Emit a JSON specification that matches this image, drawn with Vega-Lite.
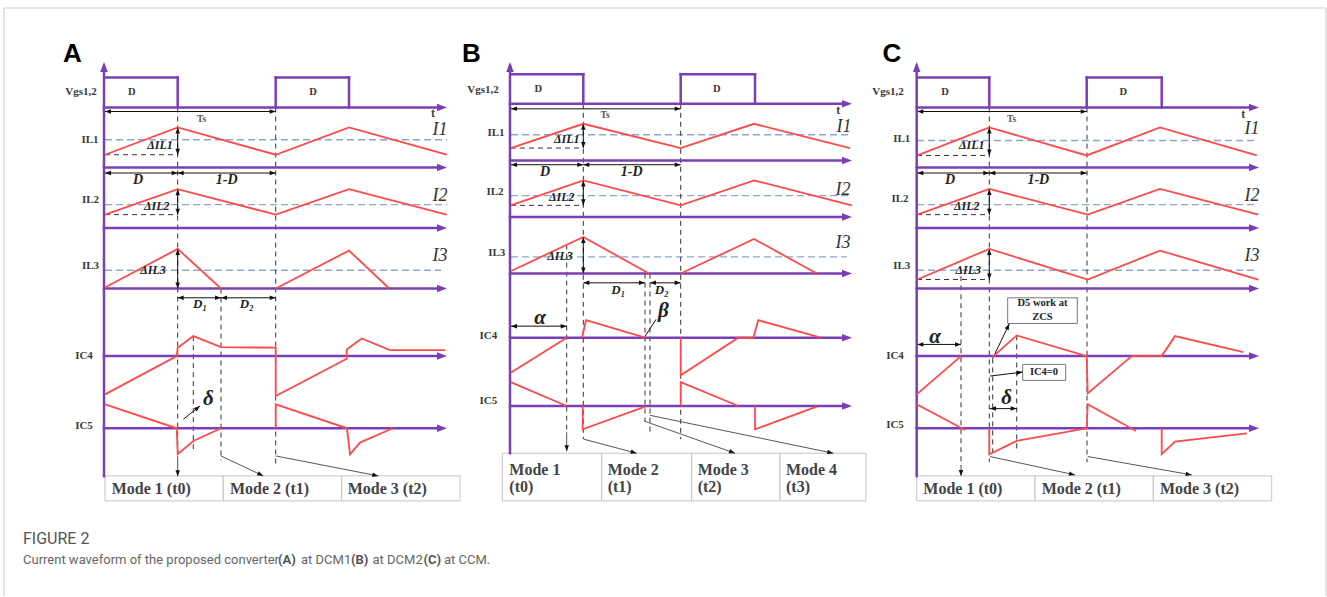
{
"$schema":"https://vega.github.io/schema/vega-lite/v6.json",
"width":1327,"height":597,"padding":0,
"autosize":{"type":"fit","contains":"padding"},
"background":"white",
"config":{"view":{"stroke":null}},
"datasets":{
"S":[
{"k":"fr","x":4,"y":8,"x2":1326,"y2":8},{"k":"fr","x":4,"y":8,"x2":4,"y2":597},{"k":"fr","x":1326,"y":8,"x2":1326,"y2":597},
{"k":"ax","x":104,"y":66,"x2":104,"y2":477},
{"k":"ax","x":104,"y":107.7,"x2":442,"y2":107.7},{"k":"ax","x":104,"y":167.7,"x2":442,"y2":167.7},{"k":"ax","x":104,"y":228.3,"x2":442,"y2":228.3},{"k":"ax","x":104,"y":289,"x2":442,"y2":289},{"k":"ax","x":104,"y":356.7,"x2":442,"y2":356.7},{"k":"ax","x":104,"y":429,"x2":442,"y2":429},
{"k":"ax","x":105,"y":77.7,"x2":177.7,"y2":77.7},{"k":"ax","x":177.7,"y":77.7,"x2":177.7,"y2":107.7},{"k":"ax","x":275.7,"y":77.7,"x2":275.7,"y2":107.7},{"k":"ax","x":275.7,"y":77.7,"x2":349,"y2":77.7},{"k":"ax","x":349,"y":77.7,"x2":349,"y2":107.7},
{"k":"ax","x":510,"y":66,"x2":510,"y2":454},
{"k":"ax","x":510,"y":104,"x2":847,"y2":104},{"k":"ax","x":510,"y":160.7,"x2":847,"y2":160.7},{"k":"ax","x":510,"y":217.3,"x2":847,"y2":217.3},{"k":"ax","x":510,"y":274,"x2":847,"y2":274},{"k":"ax","x":510,"y":338.3,"x2":847,"y2":338.3},{"k":"ax","x":510,"y":406.7,"x2":847,"y2":406.7},
{"k":"ax","x":510.7,"y":74.3,"x2":583.3,"y2":74.3},{"k":"ax","x":583.3,"y":74.3,"x2":583.3,"y2":104},{"k":"ax","x":680.7,"y":74.3,"x2":680.7,"y2":104},{"k":"ax","x":680.7,"y":74.3,"x2":755,"y2":74.3},{"k":"ax","x":755,"y":74.3,"x2":755,"y2":104},
{"k":"ax","x":916.7,"y":66,"x2":916.7,"y2":476.7},
{"k":"ax","x":916.7,"y":107.7,"x2":1254,"y2":107.7},{"k":"ax","x":916.7,"y":167.7,"x2":1254,"y2":167.7},{"k":"ax","x":916.7,"y":228.3,"x2":1254,"y2":228.3},{"k":"ax","x":916.7,"y":289,"x2":1254,"y2":289},{"k":"ax","x":916.7,"y":356.7,"x2":1254,"y2":356.7},{"k":"ax","x":916.7,"y":429,"x2":1254,"y2":429},
{"k":"ax","x":917.3,"y":77.7,"x2":989.3,"y2":77.7},{"k":"ax","x":989.3,"y":77.7,"x2":989.3,"y2":107.7},{"k":"ax","x":1086.7,"y":77.7,"x2":1086.7,"y2":107.7},{"k":"ax","x":1086.7,"y":77.7,"x2":1161.7,"y2":77.7},{"k":"ax","x":1161.7,"y":77.7,"x2":1161.7,"y2":107.7},
{"k":"avg","x":105,"y":140,"x2":447,"y2":140},{"k":"avg","x":105,"y":205,"x2":447,"y2":205},{"k":"avg","x":105,"y":270.7,"x2":441,"y2":270.7},
{"k":"avg","x":511,"y":135,"x2":851,"y2":135},{"k":"avg","x":511,"y":196,"x2":851,"y2":196},{"k":"avg","x":511,"y":257.3,"x2":847,"y2":257.3},
{"k":"avg","x":917,"y":140.7,"x2":1258,"y2":140.7},{"k":"avg","x":917,"y":205,"x2":1258,"y2":205},{"k":"avg","x":917,"y":270.7,"x2":1258,"y2":270.7},
{"k":"gd","x":105,"y":155,"x2":177.7,"y2":155},{"k":"gd","x":105,"y":215,"x2":177.7,"y2":215},{"k":"gd","x":177.7,"y":107.7,"x2":177.7,"y2":457},{"k":"gd","x":275.7,"y":107.7,"x2":275.7,"y2":465},{"k":"gd","x":221,"y":289,"x2":221,"y2":461},{"k":"gd","x":193.3,"y":336.7,"x2":193.3,"y2":453},
{"k":"gd","x":511,"y":148.3,"x2":583.3,"y2":148.3},{"k":"gd","x":511,"y":205.7,"x2":583.3,"y2":205.7},{"k":"gd","x":583.3,"y":104,"x2":583.3,"y2":440},{"k":"gd","x":680.7,"y":104,"x2":680.7,"y2":440},{"k":"gd","x":566.7,"y":245,"x2":566.7,"y2":433},{"k":"gd","x":645,"y":274,"x2":645,"y2":421.7},{"k":"gd","x":650,"y":274,"x2":650,"y2":436},
{"k":"gd","x":917,"y":155.7,"x2":989.3,"y2":155.7},{"k":"gd","x":917,"y":215,"x2":989.3,"y2":215},{"k":"gd","x":917,"y":280,"x2":989.3,"y2":280},{"k":"gd","x":989.3,"y":107.7,"x2":989.3,"y2":463},{"k":"gd","x":1087,"y":107.7,"x2":1087,"y2":463},{"k":"gd","x":961,"y":276.7,"x2":961,"y2":467},{"k":"gd","x":992.7,"y":359,"x2":992.7,"y2":453},{"k":"gd","x":1016.7,"y":336,"x2":1016.7,"y2":450},
{"k":"dm","x":105,"y":111.7,"x2":275.7,"y2":111.7},{"k":"dm","x":177.7,"y":127.7,"x2":177.7,"y2":155},{"k":"dm","x":105,"y":173.3,"x2":177.7,"y2":173.3},{"k":"dm","x":177.7,"y":173.3,"x2":275.7,"y2":173.3},{"k":"dm","x":177.7,"y":189.5,"x2":177.7,"y2":215},{"k":"dm","x":177.7,"y":249.3,"x2":177.7,"y2":289},{"k":"dm","x":177.7,"y":298.3,"x2":221,"y2":298.3},{"k":"dm","x":221,"y":298.3,"x2":275.7,"y2":298.3},{"k":"dm","x":183.3,"y":420,"x2":200,"y2":406.7},
{"k":"dm","x":511,"y":109,"x2":680.7,"y2":109},{"k":"dm","x":583.3,"y":124,"x2":583.3,"y2":148.3},{"k":"dm","x":511,"y":165,"x2":583.3,"y2":165},{"k":"dm","x":583.3,"y":165,"x2":680.7,"y2":165},{"k":"dm","x":583.3,"y":180.7,"x2":583.3,"y2":205.7},{"k":"dm","x":583.3,"y":237.3,"x2":583.3,"y2":274},{"k":"dm","x":583.3,"y":283.3,"x2":645,"y2":283.3},{"k":"dm","x":650,"y":283.3,"x2":680.7,"y2":283.3},{"k":"dm","x":511,"y":326.7,"x2":566.7,"y2":326.7},{"k":"dm","x":645,"y":337,"x2":656,"y2":320},
{"k":"dm","x":917.3,"y":111.7,"x2":1086.7,"y2":111.7},{"k":"dm","x":989.3,"y":127.7,"x2":989.3,"y2":155.7},{"k":"dm","x":917.3,"y":173.3,"x2":989.3,"y2":173.3},{"k":"dm","x":989.3,"y":173.3,"x2":1086.7,"y2":173.3},{"k":"dm","x":989.3,"y":189.3,"x2":989.3,"y2":215},{"k":"dm","x":989.3,"y":249.3,"x2":989.3,"y2":280},{"k":"dm","x":917.3,"y":345,"x2":961,"y2":345},{"k":"dm","x":992.7,"y":359,"x2":1009.3,"y2":324.3},{"k":"dm","x":990,"y":376.7,"x2":1022.7,"y2":372.7},{"k":"dm","x":990,"y":409.3,"x2":1016.7,"y2":409.3},
{"k":"pt","x":177.7,"y":457,"x2":177.7,"y2":477},{"k":"pt","x":221,"y":456.7,"x2":263.3,"y2":476.7},{"k":"pt","x":275.7,"y":456.7,"x2":378.3,"y2":476.7},
{"k":"pt","x":566.7,"y":433,"x2":566.7,"y2":452},{"k":"pt","x":584,"y":440,"x2":636.7,"y2":454},{"k":"pt","x":644,"y":421.7,"x2":735,"y2":454},{"k":"pt","x":650,"y":416,"x2":833.3,"y2":454},
{"k":"pt","x":961,"y":466,"x2":961,"y2":476.7},{"k":"pt","x":990,"y":457.3,"x2":1075,"y2":475.7},{"k":"pt","x":1087.7,"y":457.3,"x2":1191.7,"y2":475.7}
],
"P":[
{"g":"a1","i":0,"x":105,"y":155},{"g":"a1","i":1,"x":177.7,"y":127.7},{"g":"a1","i":2,"x":275.7,"y":155},{"g":"a1","i":3,"x":349,"y":127.7},{"g":"a1","i":4,"x":446.7,"y":155},
{"g":"a2","i":0,"x":105,"y":215},{"g":"a2","i":1,"x":177.7,"y":189.5},{"g":"a2","i":2,"x":275.7,"y":215},{"g":"a2","i":3,"x":349,"y":189.5},{"g":"a2","i":4,"x":446.7,"y":215},
{"g":"a3","i":0,"x":105,"y":288},{"g":"a3","i":1,"x":177.7,"y":249.3},{"g":"a3","i":2,"x":221,"y":289},
{"g":"a4","i":0,"x":275.7,"y":289},{"g":"a4","i":1,"x":349,"y":251},{"g":"a4","i":2,"x":389.3,"y":289},
{"g":"a5","i":0,"x":105,"y":395},{"g":"a5","i":1,"x":176.7,"y":356.7},{"g":"a5","i":2,"x":177.7,"y":348.3},{"g":"a5","i":3,"x":193.3,"y":336.7},{"g":"a5","i":4,"x":221,"y":347.7},{"g":"a5","i":5,"x":275.7,"y":348.3},{"g":"a5","i":6,"x":275.7,"y":396.7},{"g":"a5","i":7,"x":346.7,"y":359.3},{"g":"a5","i":8,"x":346.7,"y":350},{"g":"a5","i":9,"x":361.7,"y":339},{"g":"a5","i":10,"x":390,"y":350.7},{"g":"a5","i":11,"x":445,"y":350.7},
{"g":"a6","i":0,"x":105,"y":405},{"g":"a6","i":1,"x":176.7,"y":429},{"g":"a6","i":2,"x":177.7,"y":455},{"g":"a6","i":3,"x":193.3,"y":441.7},{"g":"a6","i":4,"x":221,"y":429},
{"g":"a7","i":0,"x":275.7,"y":429},{"g":"a7","i":1,"x":275.7,"y":405},{"g":"a7","i":2,"x":347,"y":429},{"g":"a7","i":3,"x":350,"y":455},{"g":"a7","i":4,"x":360,"y":443.3},{"g":"a7","i":5,"x":392.7,"y":429},
{"g":"b1","i":0,"x":510.7,"y":148.3},{"g":"b1","i":1,"x":583.3,"y":124},{"g":"b1","i":2,"x":680.7,"y":148.3},{"g":"b1","i":3,"x":754,"y":124},{"g":"b1","i":4,"x":850,"y":148.3},
{"g":"b2","i":0,"x":510.7,"y":205.7},{"g":"b2","i":1,"x":583.3,"y":180.7},{"g":"b2","i":2,"x":680.7,"y":205.7},{"g":"b2","i":3,"x":754,"y":180.7},{"g":"b2","i":4,"x":851.7,"y":205.7},
{"g":"b3","i":0,"x":510.7,"y":271.7},{"g":"b3","i":1,"x":583.3,"y":237.3},{"g":"b3","i":2,"x":649,"y":274},
{"g":"b4","i":0,"x":680.7,"y":274},{"g":"b4","i":1,"x":754,"y":239.3},{"g":"b4","i":2,"x":816.7,"y":274},
{"g":"b5","i":0,"x":510.7,"y":373.3},{"g":"b5","i":1,"x":566.7,"y":338.3},
{"g":"b6","i":0,"x":582,"y":338.3},{"g":"b6","i":1,"x":586,"y":320.7},{"g":"b6","i":2,"x":645,"y":338.3},
{"g":"b7","i":0,"x":680.7,"y":338.3},{"g":"b7","i":1,"x":680.7,"y":376},{"g":"b7","i":2,"x":738.3,"y":338.3},{"g":"b7","i":3,"x":753.3,"y":338.3},{"g":"b7","i":4,"x":758.3,"y":320.7},{"g":"b7","i":5,"x":820.7,"y":338.3},
{"g":"b8","i":0,"x":510.7,"y":382.7},{"g":"b8","i":1,"x":566.7,"y":406.7},
{"g":"b9","i":0,"x":582.7,"y":406.7},{"g":"b9","i":1,"x":582.7,"y":430},{"g":"b9","i":2,"x":645,"y":407.3},
{"g":"b10","i":0,"x":680.7,"y":406.7},{"g":"b10","i":1,"x":680.7,"y":382.7},{"g":"b10","i":2,"x":738.3,"y":406.7},
{"g":"b11","i":0,"x":755,"y":406.7},{"g":"b11","i":1,"x":755,"y":430},{"g":"b11","i":2,"x":816.7,"y":407.3},
{"g":"c1","i":0,"x":917.3,"y":155.7},{"g":"c1","i":1,"x":989.3,"y":127.7},{"g":"c1","i":2,"x":1086.7,"y":155.7},{"g":"c1","i":3,"x":1160,"y":127.7},{"g":"c1","i":4,"x":1256.7,"y":155.7},
{"g":"c2","i":0,"x":917.3,"y":215},{"g":"c2","i":1,"x":989.3,"y":189.3},{"g":"c2","i":2,"x":1087.7,"y":215},{"g":"c2","i":3,"x":1160,"y":189.3},{"g":"c2","i":4,"x":1258.3,"y":215},
{"g":"c3","i":0,"x":917.3,"y":280},{"g":"c3","i":1,"x":989.3,"y":249.3},{"g":"c3","i":2,"x":1087.7,"y":280},{"g":"c3","i":3,"x":1160,"y":251},{"g":"c3","i":4,"x":1258.3,"y":280},
{"g":"c4","i":0,"x":916.7,"y":395},{"g":"c4","i":1,"x":961,"y":356.7},
{"g":"c5","i":0,"x":992.7,"y":357.5},{"g":"c5","i":1,"x":1016.7,"y":336},{"g":"c5","i":2,"x":1086.7,"y":356.7},{"g":"c5","i":3,"x":1087.7,"y":394},{"g":"c5","i":4,"x":1131.7,"y":356.7},{"g":"c5","i":5,"x":1161.7,"y":356.7},{"g":"c5","i":6,"x":1175,"y":336.7},{"g":"c5","i":7,"x":1243.3,"y":352.7},
{"g":"c6","i":0,"x":916.7,"y":405},{"g":"c6","i":1,"x":965,"y":430.7},
{"g":"c7","i":0,"x":989.3,"y":429},{"g":"c7","i":1,"x":989.3,"y":455},{"g":"c7","i":2,"x":1016.7,"y":441.7},{"g":"c7","i":3,"x":1086.7,"y":429},{"g":"c7","i":4,"x":1087.7,"y":405},{"g":"c7","i":5,"x":1136,"y":431.7},
{"g":"c8","i":0,"x":1161.7,"y":429},{"g":"c8","i":1,"x":1161.7,"y":455},{"g":"c8","i":2,"x":1175,"y":442.3},{"g":"c8","i":3,"x":1246.7,"y":434}
],
"H":[
{"k":"ax","x":447,"y":107.7,"a":0},{"k":"ax","x":447,"y":167.7,"a":0},{"k":"ax","x":447,"y":228.3,"a":0},{"k":"ax","x":447,"y":289,"a":0},{"k":"ax","x":447,"y":356.7,"a":0},{"k":"ax","x":447,"y":429,"a":0},{"k":"ax","x":104,"y":62,"a":270},
{"k":"ax","x":852,"y":104,"a":0},{"k":"ax","x":852,"y":160.7,"a":0},{"k":"ax","x":852,"y":217.3,"a":0},{"k":"ax","x":852,"y":274,"a":0},{"k":"ax","x":852,"y":338.3,"a":0},{"k":"ax","x":852,"y":406.7,"a":0},{"k":"ax","x":510,"y":62,"a":270},
{"k":"ax","x":1259,"y":107.7,"a":0},{"k":"ax","x":1259,"y":167.7,"a":0},{"k":"ax","x":1259,"y":228.3,"a":0},{"k":"ax","x":1259,"y":289,"a":0},{"k":"ax","x":1259,"y":356.7,"a":0},{"k":"ax","x":1259,"y":429,"a":0},{"k":"ax","x":916.7,"y":62,"a":270},
{"k":"dm","x":105,"y":111.7,"a":180},{"k":"dm","x":275.7,"y":111.7,"a":0},{"k":"dm","x":177.7,"y":127.7,"a":270},{"k":"dm","x":177.7,"y":155,"a":90},{"k":"dm","x":105,"y":173.3,"a":180},{"k":"dm","x":177.7,"y":173.3,"a":0},{"k":"dm","x":177.7,"y":173.3,"a":180},{"k":"dm","x":275.7,"y":173.3,"a":0},{"k":"dm","x":177.7,"y":189.5,"a":270},{"k":"dm","x":177.7,"y":215,"a":90},{"k":"dm","x":177.7,"y":249.3,"a":270},{"k":"dm","x":177.7,"y":289,"a":90},{"k":"dm","x":177.7,"y":298.3,"a":180},{"k":"dm","x":221,"y":298.3,"a":0},{"k":"dm","x":221,"y":298.3,"a":180},{"k":"dm","x":275.7,"y":298.3,"a":0},{"k":"dm","x":200,"y":406.7,"a":321.5},
{"k":"dm","x":177.7,"y":477,"a":90},{"k":"dm","x":263.3,"y":476.7,"a":25.3},{"k":"dm","x":378.3,"y":476.7,"a":11},
{"k":"dm","x":511,"y":109,"a":180},{"k":"dm","x":680.7,"y":109,"a":0},{"k":"dm","x":583.3,"y":124,"a":270},{"k":"dm","x":583.3,"y":148.3,"a":90},{"k":"dm","x":511,"y":165,"a":180},{"k":"dm","x":583.3,"y":165,"a":0},{"k":"dm","x":583.3,"y":165,"a":180},{"k":"dm","x":680.7,"y":165,"a":0},{"k":"dm","x":583.3,"y":180.7,"a":270},{"k":"dm","x":583.3,"y":205.7,"a":90},{"k":"dm","x":583.3,"y":237.3,"a":270},{"k":"dm","x":583.3,"y":274,"a":90},{"k":"dm","x":583.3,"y":283.3,"a":180},{"k":"dm","x":645,"y":283.3,"a":0},{"k":"dm","x":650,"y":283.3,"a":180},{"k":"dm","x":680.7,"y":283.3,"a":0},{"k":"dm","x":511,"y":326.7,"a":180},{"k":"dm","x":566.7,"y":326.7,"a":0},
{"k":"dm","x":566.7,"y":452,"a":90},{"k":"dm","x":636.7,"y":454,"a":14.9},{"k":"dm","x":735,"y":454,"a":19.5},{"k":"dm","x":833.3,"y":454,"a":11.7},
{"k":"dm","x":917.3,"y":111.7,"a":180},{"k":"dm","x":1086.7,"y":111.7,"a":0},{"k":"dm","x":989.3,"y":127.7,"a":270},{"k":"dm","x":989.3,"y":155.7,"a":90},{"k":"dm","x":917.3,"y":173.3,"a":180},{"k":"dm","x":989.3,"y":173.3,"a":0},{"k":"dm","x":989.3,"y":173.3,"a":180},{"k":"dm","x":1086.7,"y":173.3,"a":0},{"k":"dm","x":989.3,"y":189.3,"a":270},{"k":"dm","x":989.3,"y":215,"a":90},{"k":"dm","x":989.3,"y":249.3,"a":270},{"k":"dm","x":989.3,"y":280,"a":90},{"k":"dm","x":917.3,"y":345,"a":180},{"k":"dm","x":961,"y":345,"a":0},{"k":"dm","x":1009.3,"y":324.3,"a":295.6},{"k":"dm","x":1022.7,"y":372.7,"a":353},{"k":"dm","x":990,"y":409.3,"a":180},{"k":"dm","x":1016.7,"y":409.3,"a":0},
{"k":"dm","x":961,"y":476.7,"a":90},{"k":"dm","x":1075,"y":475.7,"a":12.2},{"k":"dm","x":1191.7,"y":475.7,"a":10}
],
"R":[
{"k":"cell","x":105,"x2":223.3,"y":476.7,"y2":501.7},{"k":"cell","x":223.3,"x2":341.7,"y":476.7,"y2":501.7},{"k":"cell","x":341.7,"x2":460,"y":476.7,"y2":501.7},
{"k":"cell","x":502.3,"x2":601.7,"y":454,"y2":501.7},{"k":"cell","x":601.7,"x2":691.7,"y":454,"y2":501.7},{"k":"cell","x":691.7,"x2":780,"y":454,"y2":501.7},{"k":"cell","x":780,"x2":866,"y":454,"y2":501.7},
{"k":"cell","x":916.7,"x2":1035,"y":476.7,"y2":501.7},{"k":"cell","x":1035,"x2":1153.3,"y":476.7,"y2":501.7},{"k":"cell","x":1153.3,"x2":1271.7,"y":476.7,"y2":501.7},
{"k":"box","x":1007.7,"x2":1077.3,"y":298.3,"y2":324},{"k":"box","x":1022.7,"x2":1065.7,"y":365,"y2":381}
],
"T":[
{"k":"pn","x":72.5,"y":62,"t":"A"},{"k":"pn","x":471.5,"y":62,"t":"B"},{"k":"pn","x":892,"y":62,"t":"C"},
{"k":"sg","x":81,"y":92,"t":"Vgs1,2"},{"k":"sg","x":90,"y":140,"t":"IL1"},{"k":"sg","x":90.5,"y":200,"t":"IL2"},{"k":"sg","x":90.5,"y":266,"t":"IL3"},{"k":"sg","x":84,"y":356.7,"t":"IC4"},{"k":"sg","x":84,"y":426.7,"t":"IC5"},
{"k":"sg","x":483,"y":90,"t":"Vgs1,2"},{"k":"sg","x":496,"y":133.3,"t":"IL1"},{"k":"sg","x":495,"y":192.7,"t":"IL2"},{"k":"sg","x":496.7,"y":253.3,"t":"IL3"},{"k":"sg","x":488.3,"y":336.7,"t":"IC4"},{"k":"sg","x":488.3,"y":401.7,"t":"IC5"},
{"k":"sg","x":888,"y":91.7,"t":"Vgs1,2"},{"k":"sg","x":901.7,"y":139.3,"t":"IL1"},{"k":"sg","x":900,"y":199.3,"t":"IL2"},{"k":"sg","x":901.7,"y":266,"t":"IL3"},{"k":"sg","x":895,"y":356.7,"t":"IC4"},{"k":"sg","x":895,"y":425.7,"t":"IC5"},
{"k":"pd","x":131.7,"y":91.7,"t":"D"},{"k":"pd","x":313,"y":91.7,"t":"D"},{"k":"pd","x":538.3,"y":89.3,"t":"D"},{"k":"pd","x":716.7,"y":89.3,"t":"D"},{"k":"pd","x":945,"y":91.7,"t":"D"},{"k":"pd","x":1123.3,"y":91.7,"t":"D"},
{"k":"ts","x":201.7,"y":119,"t":"Ts"},{"k":"ts","x":605,"y":115,"t":"Ts"},{"k":"ts","x":1011.7,"y":119.3,"t":"Ts"},
{"k":"tt","x":433,"y":113.5,"t":"t"},{"k":"tt","x":838.3,"y":110,"t":"t"},{"k":"tt","x":1243.3,"y":114,"t":"t"},
{"k":"dl","x":160,"y":145,"t":"ΔIL1"},{"k":"dl","x":156.7,"y":206.7,"t":"ΔIL2"},{"k":"dl","x":153,"y":270,"t":"ΔIL3"},
{"k":"dl","x":566.7,"y":139.3,"t":"ΔIL1"},{"k":"dl","x":561.7,"y":197.3,"t":"ΔIL2"},{"k":"dl","x":560,"y":256,"t":"ΔIL3"},
{"k":"dl","x":971.7,"y":145,"t":"ΔIL1"},{"k":"dl","x":966.7,"y":206.7,"t":"ΔIL2"},{"k":"dl","x":968.3,"y":270,"t":"ΔIL3"},
{"k":"ii","x":440,"y":130,"t":"I1"},{"k":"ii","x":440,"y":196.7,"t":"I2"},{"k":"ii","x":440,"y":256.7,"t":"I3"},
{"k":"ii","x":844,"y":127,"t":"I1"},{"k":"ii","x":843,"y":190,"t":"I2"},{"k":"ii","x":843,"y":243.3,"t":"I3"},
{"k":"ii","x":1252,"y":129.3,"t":"I1"},{"k":"ii","x":1252,"y":196.7,"t":"I2"},{"k":"ii","x":1252,"y":256.7,"t":"I3"},
{"k":"dd","x":138,"y":180.7,"t":"D"},{"k":"dd","x":226.7,"y":180.7,"t":"1-D"},{"k":"dd","x":545,"y":172.7,"t":"D"},{"k":"dd","x":631.7,"y":172.7,"t":"1-D"},{"k":"dd","x":950,"y":180.7,"t":"D"},{"k":"dd","x":1038.3,"y":180.7,"t":"1-D"},
{"k":"d12","x":200,"y":305,"t":"D₁"},{"k":"d12","x":246.7,"y":305,"t":"D₂"},{"k":"d12","x":618.3,"y":290,"t":"D₁"},{"k":"d12","x":661.7,"y":290,"t":"D₂"},
{"k":"gk","x":208.3,"y":400,"t":"δ"},{"k":"gk","x":540,"y":319,"t":"α"},{"k":"gk","x":663.3,"y":311.7,"t":"β"},{"k":"gk","x":935,"y":338,"t":"α"},{"k":"gk","x":1006.7,"y":398.3,"t":"δ"},
{"k":"md","x":111.7,"y":490,"t":"Mode 1 (t0)"},{"k":"md","x":230,"y":490,"t":"Mode 2 (t1)"},{"k":"md","x":347.7,"y":490,"t":"Mode  3 (t2)"},
{"k":"md","x":509.3,"y":470.7,"t":"Mode 1"},{"k":"md","x":509.3,"y":488.3,"t":"(t0)"},{"k":"md","x":607.7,"y":470.7,"t":"Mode 2"},{"k":"md","x":607.7,"y":488.3,"t":"(t1)"},{"k":"md","x":697.7,"y":470.7,"t":"Mode  3"},{"k":"md","x":697.7,"y":488.3,"t":"(t2)"},{"k":"md","x":786,"y":470.7,"t":"Mode  4"},{"k":"md","x":786,"y":488.3,"t":"(t3)"},
{"k":"md","x":923.3,"y":490,"t":"Mode 1 (t0)"},{"k":"md","x":1041.7,"y":490,"t":"Mode 2 (t1)"},{"k":"md","x":1160,"y":490,"t":"Mode  3 (t2)"},
{"k":"bx","x":1042.5,"y":304,"t":"D5 work at"},{"k":"bx","x":1042.5,"y":317.3,"t":"ZCS"},{"k":"bx","x":1044,"y":373,"t":"IC4=0"},
{"k":"cap1","x":23,"y":545,"t":"FIGURE 2"},
{"k":"cap2","x":23,"y":565,"t":"Current waveform of the proposed converter"},{"k":"cap2","x":301,"y":565,"t":"at DCM1"},{"k":"cap2","x":372.5,"y":565,"t":"at DCM2"},{"k":"cap2","x":444,"y":565,"t":"at CCM."},
{"k":"cap3","x":278,"y":565,"t":"(A)"},{"k":"cap3","x":351,"y":565,"t":"(B)"},{"k":"cap3","x":423.5,"y":565,"t":"(C)"}
]
},
"encoding":{
"x":{"field":"x","type":"quantitative","scale":{"domain":[0,1327],"nice":false,"zero":false},"axis":null},
"y":{"field":"y","type":"quantitative","scale":{"domain":[0,597],"reverse":true,"nice":false,"zero":false},"axis":null}
},
"layer":[
{"data":{"name":"S"},"transform":[{"filter":"datum.k==='fr'"}],"mark":{"type":"rule","stroke":"#d2d2d2","strokeWidth":1.2},"encoding":{"x2":{"field":"x2"},"y2":{"field":"y2"}}},
{"data":{"name":"R"},"transform":[{"filter":"datum.k==='cell'"}],"mark":{"type":"rect","fill":"white","stroke":"#c4c4c4","strokeWidth":1},"encoding":{"x2":{"field":"x2"},"y2":{"field":"y2"}}},
{"data":{"name":"R"},"transform":[{"filter":"datum.k==='box'"}],"mark":{"type":"rect","fill":"white","stroke":"#777","strokeWidth":1},"encoding":{"x2":{"field":"x2"},"y2":{"field":"y2"}}},
{"data":{"name":"S"},"transform":[{"filter":"datum.k==='avg'"}],"mark":{"type":"rule","stroke":"#8ea5d0","strokeWidth":1.4,"strokeDash":[7,4]},"encoding":{"x2":{"field":"x2"},"y2":{"field":"y2"}}},
{"data":{"name":"S"},"transform":[{"filter":"datum.k==='gd'"}],"mark":{"type":"rule","stroke":"#333","strokeWidth":1,"strokeDash":[5,4]},"encoding":{"x2":{"field":"x2"},"y2":{"field":"y2"}}},
{"data":{"name":"S"},"transform":[{"filter":"datum.k==='dm'"}],"mark":{"type":"rule","stroke":"#111","strokeWidth":1},"encoding":{"x2":{"field":"x2"},"y2":{"field":"y2"}}},
{"data":{"name":"S"},"transform":[{"filter":"datum.k==='pt'"}],"mark":{"type":"rule","stroke":"#555","strokeWidth":1},"encoding":{"x2":{"field":"x2"},"y2":{"field":"y2"}}},
{"data":{"name":"S"},"transform":[{"filter":"datum.k==='ax'"}],"mark":{"type":"rule","stroke":"#7b3fb5","strokeWidth":2.5,"strokeCap":"square"},"encoding":{"x2":{"field":"x2"},"y2":{"field":"y2"}}},
{"data":{"name":"P"},"mark":{"type":"line","stroke":"#ff4a4a","strokeWidth":1.8,"strokeJoin":"miter"},"encoding":{"detail":{"field":"g"},"order":{"field":"i","type":"quantitative"}}},
{"data":{"name":"H"},"transform":[{"filter":"datum.k==='ax'"}],"mark":{"type":"point","shape":"M0,0L-2,-0.75L-2,0.75Z","filled":true,"opacity":1,"size":100,"color":"#7b3fb5"},"encoding":{"angle":{"field":"a","type":"quantitative","scale":null}}},
{"data":{"name":"H"},"transform":[{"filter":"datum.k==='dm'"}],"mark":{"type":"point","shape":"M0,0L-2,-0.75L-2,0.75Z","filled":true,"opacity":1,"size":36,"color":"#111"},"encoding":{"angle":{"field":"a","type":"quantitative","scale":null}}},
{"data":{"name":"T"},"transform":[{"filter":"datum.k==='pn'"}],"mark":{"type":"text","font":"Liberation Sans","fontWeight":"bold","fontSize":26,"fill":"#000","align":"center","baseline":"alphabetic"},"encoding":{"text":{"field":"t"}}},
{"data":{"name":"T"},"transform":[{"filter":"datum.k==='sg'"}],"mark":{"type":"text","font":"Liberation Serif","fontWeight":"bold","fontSize":11,"fill":"#3a3a3a","align":"center","baseline":"middle"},"encoding":{"text":{"field":"t"}}},
{"data":{"name":"T"},"transform":[{"filter":"datum.k==='pd'"}],"mark":{"type":"text","font":"Liberation Serif","fontWeight":"bold","fontSize":10.5,"fill":"#3a3a3a","align":"center","baseline":"middle"},"encoding":{"text":{"field":"t"}}},
{"data":{"name":"T"},"transform":[{"filter":"datum.k==='ts'"}],"mark":{"type":"text","font":"Liberation Serif","fontWeight":"bold","fontSize":9.5,"fill":"#555","align":"center","baseline":"middle"},"encoding":{"text":{"field":"t"}}},
{"data":{"name":"T"},"transform":[{"filter":"datum.k==='tt'"}],"mark":{"type":"text","font":"Liberation Serif","fontWeight":"bold","fontSize":12,"fill":"#444","align":"center","baseline":"middle"},"encoding":{"text":{"field":"t"}}},
{"data":{"name":"T"},"transform":[{"filter":"datum.k==='dl'"}],"mark":{"type":"text","font":"Liberation Serif","fontWeight":"bold","fontStyle":"italic","fontSize":12,"fill":"#222","align":"center","baseline":"middle"},"encoding":{"text":{"field":"t"}}},
{"data":{"name":"T"},"transform":[{"filter":"datum.k==='ii'"}],"mark":{"type":"text","font":"Liberation Serif","fontStyle":"italic","fontSize":18,"fill":"#333","align":"center","baseline":"middle"},"encoding":{"text":{"field":"t"}}},
{"data":{"name":"T"},"transform":[{"filter":"datum.k==='dd'"}],"mark":{"type":"text","font":"Liberation Serif","fontWeight":"bold","fontStyle":"italic","fontSize":14,"fill":"#222","align":"center","baseline":"middle"},"encoding":{"text":{"field":"t"}}},
{"data":{"name":"T"},"transform":[{"filter":"datum.k==='d12'"}],"mark":{"type":"text","font":"Liberation Serif","fontWeight":"bold","fontStyle":"italic","fontSize":13,"fill":"#222","align":"center","baseline":"middle"},"encoding":{"text":{"field":"t"}}},
{"data":{"name":"T"},"transform":[{"filter":"datum.k==='gk'"}],"mark":{"type":"text","font":"Liberation Serif","fontWeight":"bold","fontStyle":"italic","fontSize":21,"fill":"#222","align":"center","baseline":"middle"},"encoding":{"text":{"field":"t"}}},
{"data":{"name":"T"},"transform":[{"filter":"datum.k==='md'"}],"mark":{"type":"text","font":"Liberation Serif","fontWeight":"bold","fontSize":16,"fill":"#444","align":"left","baseline":"middle"},"encoding":{"text":{"field":"t"}}},
{"data":{"name":"T"},"transform":[{"filter":"datum.k==='bx'"}],"mark":{"type":"text","font":"Liberation Serif","fontWeight":"bold","fontSize":10.5,"fill":"#222","align":"center","baseline":"middle"},"encoding":{"text":{"field":"t"}}},
{"data":{"name":"T"},"transform":[{"filter":"datum.k==='cap1'"}],"mark":{"type":"text","font":"Roboto","fontSize":16,"fill":"#555","align":"left","baseline":"alphabetic"},"encoding":{"text":{"field":"t"}}},
{"data":{"name":"T"},"transform":[{"filter":"datum.k==='cap2'"}],"mark":{"type":"text","font":"Roboto","fontSize":13,"fill":"#666","align":"left","baseline":"alphabetic"},"encoding":{"text":{"field":"t"}}},
{"data":{"name":"T"},"transform":[{"filter":"datum.k==='cap3'"}],"mark":{"type":"text","font":"Roboto","fontWeight":"bold","fontSize":13,"fill":"#555","align":"left","baseline":"alphabetic"},"encoding":{"text":{"field":"t"}}}
]
}
